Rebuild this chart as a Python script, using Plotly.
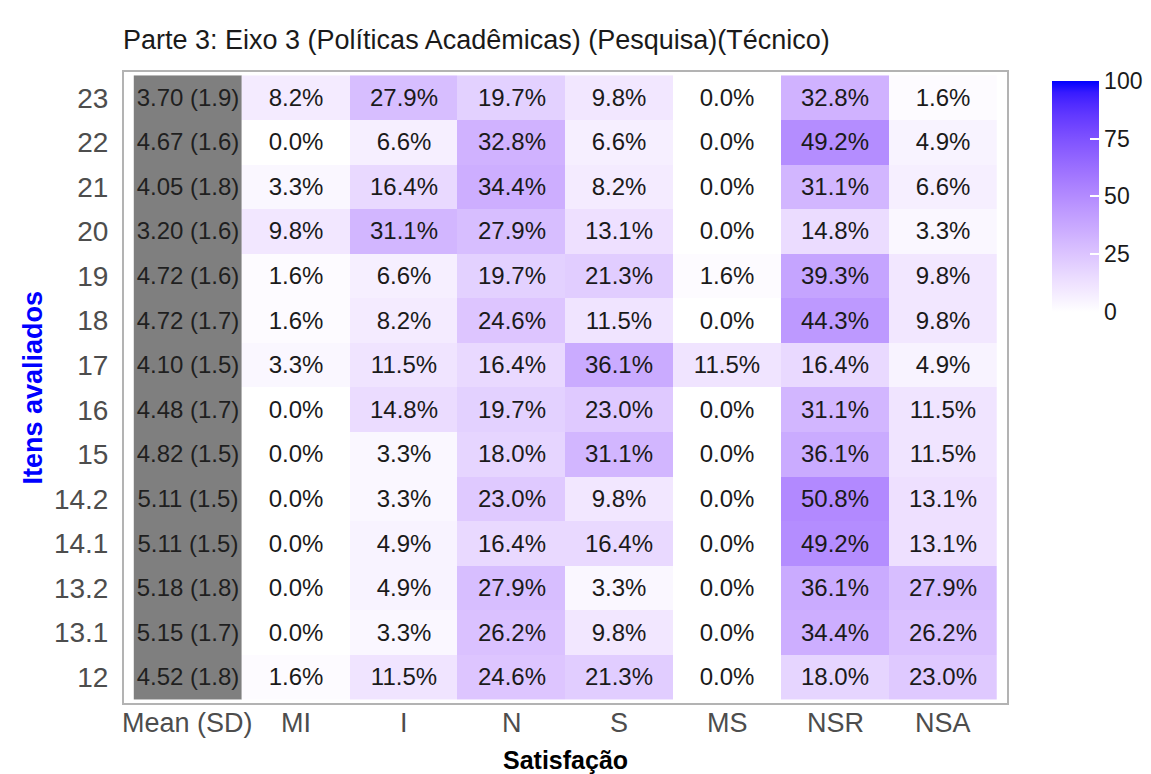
import plotly.graph_objects as go
import numpy as np

# ---------------- data ----------------
items = ["12", "13.1", "13.2", "14.1", "14.2", "15", "16", "17", "18", "19", "20", "21", "22", "23"]
categories = ["Mean (SD)", "MI", "I", "N", "S", "MS", "NSR", "NSA"]
mean_sd = ["4.52 (1.8)", "5.15 (1.7)", "5.18 (1.8)", "5.11 (1.5)", "5.11 (1.5)", "4.82 (1.5)",
           "4.48 (1.7)", "4.10 (1.5)", "4.72 (1.7)", "4.72 (1.6)", "3.20 (1.6)", "4.05 (1.8)",
           "4.67 (1.6)", "3.70 (1.9)"]
MI  = [1.6, 0.0, 0.0, 0.0, 0.0, 0.0, 0.0, 3.3, 1.6, 1.6, 9.8, 3.3, 0.0, 8.2]
I   = [11.5, 3.3, 4.9, 4.9, 3.3, 3.3, 14.8, 11.5, 8.2, 6.6, 31.1, 16.4, 6.6, 27.9]
N   = [24.6, 26.2, 27.9, 16.4, 23.0, 18.0, 19.7, 16.4, 24.6, 19.7, 27.9, 34.4, 32.8, 19.7]
S   = [21.3, 9.8, 3.3, 16.4, 9.8, 31.1, 23.0, 36.1, 11.5, 21.3, 13.1, 8.2, 6.6, 9.8]
MS  = [0.0, 0.0, 0.0, 0.0, 0.0, 0.0, 0.0, 11.5, 0.0, 1.6, 0.0, 0.0, 0.0, 0.0]
NSR = [18.0, 34.4, 36.1, 49.2, 50.8, 36.1, 31.1, 16.4, 44.3, 39.3, 14.8, 31.1, 49.2, 32.8]
NSA = [23.0, 26.2, 27.9, 13.1, 13.1, 11.5, 11.5, 4.9, 9.8, 9.8, 3.3, 6.6, 4.9, 1.6]
colorbar_ticks = [0, 25, 50, 75, 100]

series = [MI, I, N, S, MS, NSR, NSA]
z = np.array(series).T  # rows = items, cols = categories 1..7
text = [[f"{v:.1f}%" for v in row] for row in z]

# ---------------- colour scale: white -> blue interpolated in CIE Lab ----------------
def lab_to_hex(L, a, b):
    fy = (L + 16) / 116
    fx = fy + a / 500
    fz = fy - b / 200
    def finv(t):
        return t ** 3 if t ** 3 > 0.008856 else (t - 16 / 116) / 7.787
    X = 0.95047 * finv(fx)
    Y = 1.00000 * finv(fy)
    Z = 1.08883 * finv(fz)
    r = 3.2404542 * X - 1.5371385 * Y - 0.4985314 * Z
    g = -0.9692660 * X + 1.8760108 * Y + 0.0415560 * Z
    bb = 0.0556434 * X - 0.2040259 * Y + 1.0572252 * Z
    def gam(c):
        c = max(0.0, min(1.0, c))
        return 1.055 * c ** (1 / 2.4) - 0.055 if c > 0.0031308 else 12.92 * c
    return "#%02x%02x%02x" % tuple(int(round(gam(c) * 255)) for c in (r, g, bb))

lab_w = (100.0, 0.0, 0.0)
lab_b = (32.30, 79.19, -107.86)
stops = np.linspace(0, 1, 21)
cscale = [[float(t), lab_to_hex(*(lab_w[k] + t * (lab_b[k] - lab_w[k]) for k in range(3)))] for t in stops]

ypos = list(range(len(items)))
xpos = list(range(len(categories)))
FONT = "Liberation Sans, Arial, sans-serif"
W, H = 1151, 774
ML, MR, MT, MB = 115, 151, 63, 78
PW, PH = W - ML - MR, H - MT - MB

def py(px_from_top):
    return ((H - px_from_top) - MB) / PH

fig = go.Figure()

# Mean (SD) column, grey tiles
fig.add_trace(go.Heatmap(
    x=[0], y=ypos, z=[[1] for _ in items], text=[[m] for m in mean_sd],
    texttemplate="%{text}", textfont=dict(size=24, color="#1f1f1f", family=FONT),
    colorscale=[[0, "#7f7f7f"], [1, "#7f7f7f"]], showscale=False, hoverinfo="skip",
))

# Percentage tiles
fig.add_trace(go.Heatmap(
    x=xpos[1:], y=ypos, z=z, text=text,
    texttemplate="%{text}", textfont=dict(size=24, color="#1a1a1a", family=FONT),
    colorscale=cscale, zmin=0, zmax=100,
    colorbar=dict(
        thickness=47, len=231, lenmode="pixels",
        x=1044 / W, xref="container", xanchor="left",
        y=1 - 89 / H, yref="container", yanchor="top",
        xpad=0, ypad=0, outlinewidth=0,
        tickvals=colorbar_ticks, ticks="inside", ticklen=9, tickcolor="white", tickwidth=1.5,
        tickfont=dict(size=23, color="#1a1a1a", family=FONT),
    ),
))

# x-axis category labels placed as annotations so their position matches exactly
annotations = [
    dict(text=c, xref="x", yref="paper", x=xv, y=py(699), xanchor="center", yanchor="top",
         borderpad=0, showarrow=False, font=dict(size=27, color="#4d4d4d", family=FONT))
    for xv, c in zip(xpos, categories)
]
annotations += [
    dict(text="<b>Satisfação</b>", xref="paper", yref="paper", x=0.5, y=py(767),
         xanchor="center", yanchor="bottom", borderpad=0, showarrow=False,
         font=dict(size=25, color="black", family=FONT)),
    dict(text="<b>Itens avaliados</b>", xref="paper", yref="paper",
         x=(24 - ML) / PW, y=0.5, xanchor="center", yanchor="middle", textangle=-90,
         showarrow=False, font=dict(size=27, color="blue", family=FONT)),
]

fig.update_layout(
    width=W, height=H,
    margin=dict(l=ML, r=MR, t=MT, b=MB),
    paper_bgcolor="white", plot_bgcolor="white",
    font=dict(family=FONT),
    title=dict(text="Parte 3: Eixo 3 (Políticas Acadêmicas) (Pesquisa)(Técnico)",
               x=115 / W, xanchor="left", xref="container",
               y=1 - 32 / H, yanchor="middle", yref="container",
               font=dict(size=27, color="#1a1a1a", family=FONT)),
    xaxis=dict(range=[-0.6, 7.6], showticklabels=False,
               showgrid=False, zeroline=False, ticks="", automargin=False),
    yaxis=dict(range=[-0.6, 13.6], tickvals=ypos, ticktext=items,
               showgrid=False, zeroline=False, ticks="outside", ticklen=8,
               tickcolor="rgba(0,0,0,0)", automargin=False,
               tickfont=dict(size=28, color="#4d4d4d", family=FONT)),
    annotations=annotations,
    shapes=[dict(type="rect", xref="paper", yref="paper", x0=0, x1=1, y0=0, y1=1,
                 line=dict(color="#b3b3b3", width=2), fillcolor="rgba(0,0,0,0)", layer="above")],
)

fig.write_html("out.html")
